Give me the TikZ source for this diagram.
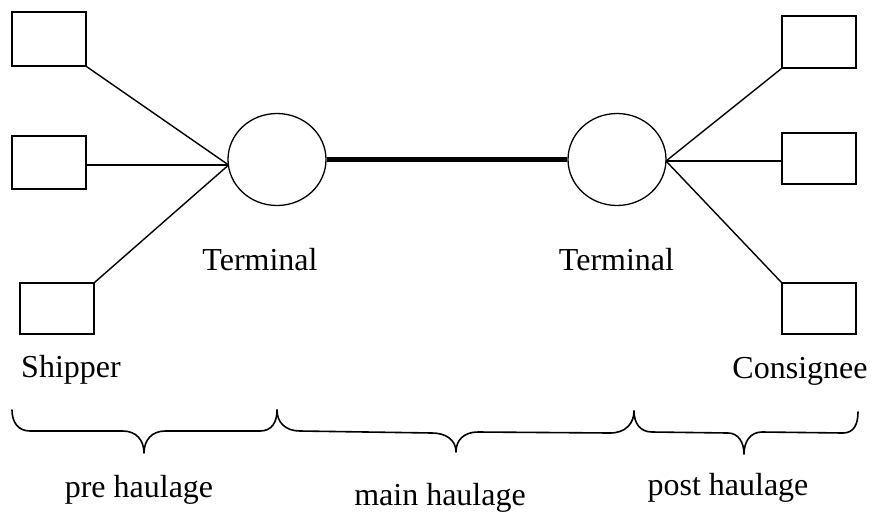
\documentclass[tikz,border=0pt]{standalone}
\usepackage{fontspec}
\setmainfont{Liberation Serif}
\usetikzlibrary{shapes.geometric}
\begin{document}
\begin{tikzpicture}[x=1pt,y=-1pt,
  every node/.style={font=\fontsize{32}{38}\selectfont},
  box/.style={draw,line width=1.3pt,rectangle,inner sep=0pt,minimum width=74pt,minimum height=#1},
  box/.default=53pt,
  term/.style={draw,line width=1.3pt,ellipse,inner sep=0pt,minimum width=98pt,minimum height=92pt},
  link/.style={line width=1.4pt},
  mainlink/.style={line width=5pt},
  brace/.style={line width=1.6pt,line join=round,line cap=round},
  lbl/.style={anchor=base,inner sep=0pt}]
\useasboundingbox (0,0) rectangle (872,512);
% boxes
\node[box=54pt] (L1) at (49,39) {};
\node[box=53pt] (L2) at (49,162.5) {};
\node[box=51pt] (L3) at (57,308.5) {};
\node[box=52pt] (R1) at (819,42) {};
\node[box=51pt] (R2) at (819,158.5) {};
\node[box=51pt] (R3) at (819,308.5) {};
% terminals
\node[term] (TL) at (277,159.5) {};
\node[term] (TR) at (617,159.5) {};
\coordinate (cl) at (228.6,165);
\coordinate (cr) at (666,161);
% connectors
\draw[link] (L1.south east) -- (cl);
\draw[link] (cl -| L2.east) -- (cl);
\draw[link] (L3.north east) -- (cl);
\draw[link] (R1.south west) -- (cr);
\draw[link] (cr -| R2.west) -- (cr);
\draw[link] (R3.north west) -- (cr);
\draw[mainlink] (TL.east) -- (TR.west);
% labels
\node[lbl] (tl) at (260,270) {Terminal};
\node[lbl] (tr) at (616.5,270) {Terminal};
\node[lbl] (sh) at (71,377) {Shipper};
\node[lbl] (co) at (800,378) {Consignee};
\node[lbl] (pre) at (139,497) {pre haulage};
\node[lbl] (mh) at (440,505) {main haulage};
\node[lbl] (ph) at (728,495) {post haulage};
% braces
\draw[brace] (12,410) .. controls (12,422) and (18,431) .. (30,431) -- (123,431)
  .. controls (136,431) and (144,440) .. (144,453)
  .. controls (144,440) and (152,431) .. (165,431) -- (260,431)
  .. controls (272,431) and (277,422) .. (277,410);
\draw[brace] (277,410) .. controls (277,422) and (285,431) .. (300,431) -- (432,433)
  .. controls (446,433) and (456,440) .. (456,452)
  .. controls (456,440) and (464,432) .. (478,432) -- (610,433)
  .. controls (626,433) and (634,423) .. (634,411);
\draw[brace] (634,411) .. controls (634,423) and (640,432) .. (652,432) -- (728,433)
  .. controls (738,433) and (744,442) .. (744,454)
  .. controls (744,442) and (750,432) .. (762,432) -- (843,433)
  .. controls (854,433) and (858,424) .. (858,412);
\end{tikzpicture}
\end{document}
